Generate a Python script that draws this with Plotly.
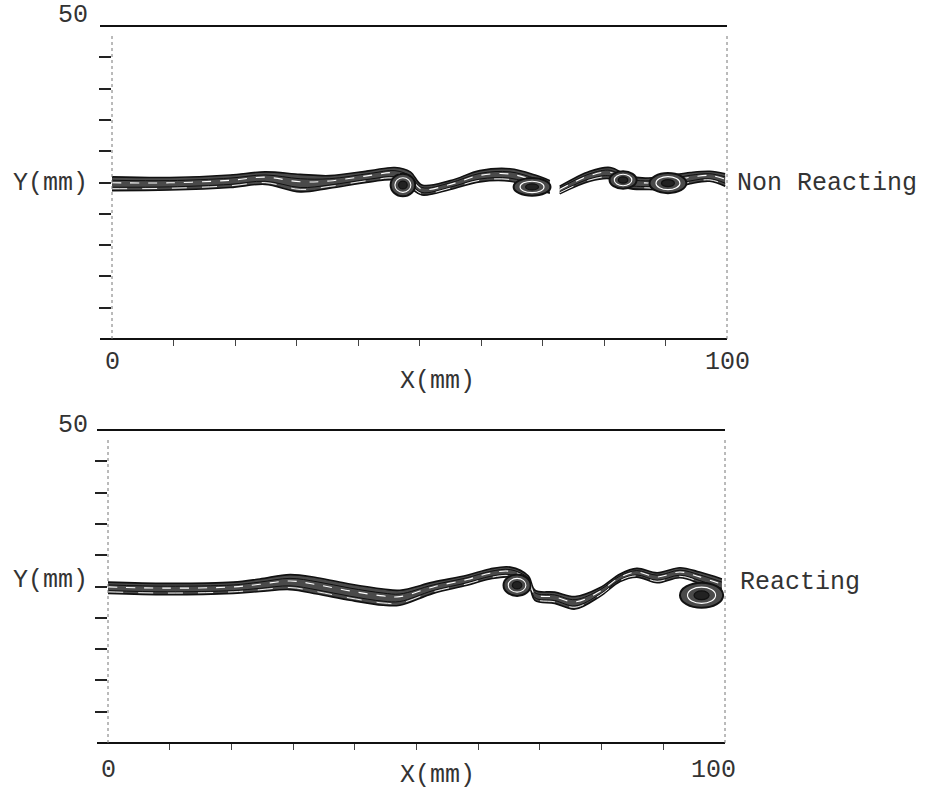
import plotly.graph_objects as go

# ---------------- data (mm) ----------------
# Non reacting layer: centre line of the contour band and its half width
nr_x = [0, 9.4, 19.2, 24.9, 30.6, 35.4, 42.0, 46.0, 48.5, 50.4, 55.0, 59.8, 64.7, 68.8, 71.2,
        None, 72.8, 77.7, 81.0, 83.9, 86.7, 90.4, 94.0, 97.2, 99.7]
nr_y = [24.8, 24.8, 25.2, 25.7, 24.9, 25.1, 26.0, 26.4, 25.4, 23.8, 24.6, 26.0, 26.2, 25.1, 24.3,
        None, 23.8, 26.0, 26.5, 25.1, 24.8, 25.0, 25.7, 26.0, 25.4]
nr_hw = [1.1, 1.0, 1.0, 1.0, 1.4, 1.0, 0.9, 1.0, 1.3, 0.8, 0.7, 0.9, 1.0, 1.1, 1.0,
         None, 0.6, 0.8, 0.9, 1.0, 0.9, 1.1, 0.9, 0.8, 1.0]
# vortex cores (centre x, centre y, radius x, radius y)
nr_vx = [47.3, 68.3, 83.1, 90.4]
nr_vy = [24.6, 24.3, 25.4, 24.9]
nr_rx = [2.0, 3.0, 2.2, 3.0]
nr_ry = [1.8, 1.4, 1.4, 1.6]

# Reacting layer
re_x = [0, 9.6, 20.3, 24.6, 29.5, 33.9, 39.2, 44.6, 47.3, 52.7, 58.2, 61.9, 65.2, 68.1, 69.2,
        72.4, 75.7, 79.7, 83.0, 85.7, 89.0, 92.7, 95.9, 99.5]
re_y = [24.8, 24.6, 24.8, 25.2, 25.7, 25.1, 24.1, 23.3, 23.2, 24.8, 26.0, 27.0, 27.3, 26.0, 23.6,
        23.2, 22.4, 24.1, 26.4, 27.2, 26.4, 27.2, 26.4, 25.2]
re_hw = [0.9, 0.9, 0.9, 1.0, 1.2, 1.3, 1.3, 1.3, 1.2, 0.9, 0.8, 0.8, 0.8, 0.7, 0.8,
         0.9, 1.0, 0.7, 0.6, 0.7, 0.8, 0.8, 0.9, 1.0]
re_vx = [66.3, 96.2]
re_vy = [25.2, 23.6]
re_rx = [2.2, 3.5]
re_ry = [1.7, 2.0]

x_ticks = [10, 20, 30, 40, 50, 60, 70, 80, 90]
y_ticks = [5, 10, 15, 20, 25, 30, 35, 40, 45]
x_tick_labels = ["0", "100"]
y_tick_labels = ["50", "Y(mm)"]
case_labels = ["Non Reacting", "Reacting"]
axis_title_x = "X(mm)"

FONT = "Liberation Mono, Courier New, monospace"
W, H = 939, 789

fig = go.Figure()


def segments(xs, ys, hs):
    out, cur = [], ([], [], [])
    for a, b, c in zip(xs, ys, hs):
        if a is None:
            if cur[0]:
                out.append(cur)
            cur = ([], [], [])
        else:
            cur[0].append(a); cur[1].append(b); cur[2].append(c)
    if cur[0]:
        out.append(cur)
    return out


def add_band(xs, ys, hs, xa, ya):
    for sx, sy, sh in segments(xs, ys, hs):
        lo = [y - h for y, h in zip(sy, sh)]
        hi = [y + h for y, h in zip(sy, sh)]
        fig.add_trace(go.Scatter(x=sx, y=lo, mode="lines", line=dict(color="#111", width=1.6, shape="spline"),
                                 xaxis=xa, yaxis=ya, showlegend=False, hoverinfo="skip"))
        fig.add_trace(go.Scatter(x=sx, y=hi, mode="lines", fill="tonexty", fillcolor="#4a4a4a",
                                 line=dict(color="#111", width=1.6, shape="spline"),
                                 xaxis=xa, yaxis=ya, showlegend=False, hoverinfo="skip"))
        for f, col, w, dash in [(0.5, "#111", 1.0, "solid"), (-0.5, "#111", 1.0, "solid"),
                                (0.15, "white", 1.1, "dash"), (-0.72, "white", 0.9, "longdash")]:
            fig.add_trace(go.Scatter(x=sx, y=[y + f * h for y, h in zip(sy, sh)], mode="lines",
                                     line=dict(color=col, width=w, shape="spline", dash=dash),
                                     xaxis=xa, yaxis=ya, showlegend=False, hoverinfo="skip"))


def add_vortices(vx, vy, rx, ry, xr, yr):
    for cx, cy, a, b in zip(vx, vy, rx, ry):
        fig.add_shape(type="circle", xref=xr, yref=yr, x0=cx - a, x1=cx + a, y0=cy - b, y1=cy + b,
                      line=dict(color="#111", width=2), fillcolor="#4a4a4a")
        fig.add_shape(type="circle", xref=xr, yref=yr, x0=cx - 0.65 * a, x1=cx + 0.65 * a,
                      y0=cy - 0.65 * b, y1=cy + 0.65 * b, line=dict(color="white", width=1.1))
        fig.add_shape(type="circle", xref=xr, yref=yr, x0=cx - 0.35 * a, x1=cx + 0.35 * a,
                      y0=cy - 0.35 * b, y1=cy + 0.35 * b, line=dict(color="#111", width=1.2),
                      fillcolor="#222")


add_band(nr_x, nr_y, nr_hw, "x", "y")
add_band(re_x, re_y, re_hw, "x2", "y2")
add_vortices(nr_vx, nr_vy, nr_rx, nr_ry, "x", "y")
add_vortices(re_vx, re_vy, re_rx, re_ry, "x2", "y2")


def frame(xr, yr, left_ext):
    # solid top & bottom rules, dotted side rules
    for yy in (0, 1):
        fig.add_shape(type="line", xref=xr + " domain", yref=yr + " domain", x0=left_ext, x1=1, y0=yy, y1=yy,
                      line=dict(color="#111", width=1.8))
    for xx in (0, 1):
        fig.add_shape(type="line", xref=xr + " domain", yref=yr + " domain", x0=xx, x1=xx, y0=0, y1=0.97,
                      line=dict(color="#777", width=1, dash="dot"))


frame("x", "y", -12 / 615)
frame("x2", "y2", -11 / 617)

ax_common = dict(showgrid=False, zeroline=False, showline=False, showticklabels=False)
fig.update_layout(
    width=W, height=H, margin=dict(l=0, r=0, t=0, b=0),
    paper_bgcolor="white", plot_bgcolor="white",
    xaxis=dict(domain=[112 / W, 727 / W], range=[0, 100], anchor="y", ticks="outside", tickvals=x_ticks,
               ticklen=6, tickwidth=1, tickcolor="#444", **ax_common),
    yaxis=dict(domain=[1 - 339 / H, 1 - 26 / H], range=[0, 50], anchor="x", ticks="outside", tickvals=y_ticks,
               ticklen=12, tickwidth=1.6, tickcolor="#222", **ax_common),
    xaxis2=dict(domain=[108 / W, 725 / W], range=[0, 100], anchor="y2", ticks="outside", tickvals=x_ticks,
                ticklen=6, tickwidth=1, tickcolor="#444", **ax_common),
    yaxis2=dict(domain=[1 - 743 / H, 1 - 430 / H], range=[0, 50], anchor="x2", ticks="outside", tickvals=y_ticks,
                ticklen=12, tickwidth=1.6, tickcolor="#222", **ax_common),
)

tf = dict(family=FONT, size=25, color="#333")


def ann(text, x, y, xanchor="center"):
    fig.add_annotation(text=text, x=x / W, y=1 - y / H, xref="paper", yref="paper", showarrow=False,
                       xanchor=xanchor, yanchor="middle", font=tf)


# top panel labels
ann(y_tick_labels[0], 90, 15, "right")
ann(y_tick_labels[1], 90, 183, "right")
ann(x_tick_labels[0], 112, 362)
ann(x_tick_labels[1], 727, 362)
ann(axis_title_x, 437, 381)
ann(case_labels[0], 735, 183, "left")
# bottom panel labels
ann(y_tick_labels[0], 90, 425, "right")
ann(y_tick_labels[1], 90, 580, "right")
ann(x_tick_labels[0], 108, 770)
ann(x_tick_labels[1], 713, 770)
ann(axis_title_x, 437, 775)
ann(case_labels[1], 738, 582, "left")

fig.write_html("out.html", config={"displayModeBar": False},
               post_script="document.body.style.margin='0';document.body.style.overflow='hidden';")
